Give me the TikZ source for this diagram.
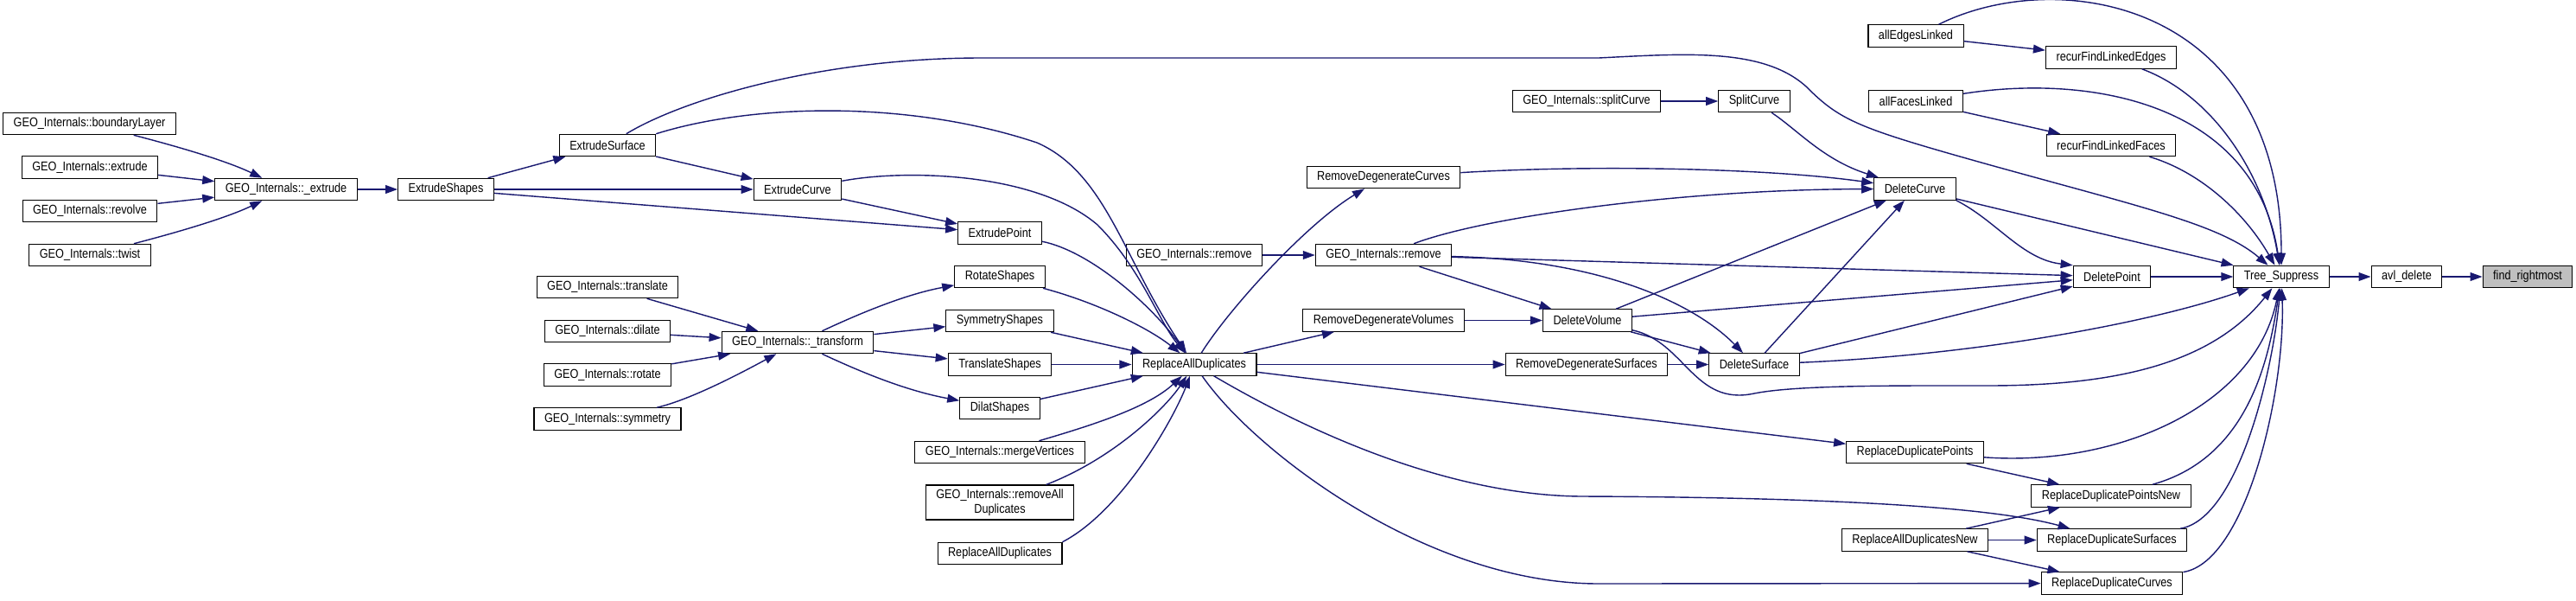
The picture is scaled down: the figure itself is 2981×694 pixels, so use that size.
\documentclass[tikz,border=0pt]{standalone}
\usepackage{fontspec}
\setmainfont{Liberation Sans}[FakeStretch=0.86]
\usetikzlibrary{arrows.meta}
\definecolor{edgeblue}{HTML}{191970}
\definecolor{hilite}{HTML}{BFBFBF}

\begin{document}
\begin{tikzpicture}[x=0.02cm,y=-0.02cm,>={Triangle[length=8pt,width=5.6pt]},
  every node/.style={font=\fontsize{8.4}{10}\selectfont},
  fn/.style={draw=black,line width=0.6pt,fill=white,inner xsep=0.24cm,inner ysep=0pt,minimum height=0.51cm},
  call/.style={->,draw=edgeblue,line width=0.8pt}]
  \useasboundingbox (0,0) rectangle (2981,694);
  \node[fn] (bl) at (103.5,143) {GEO\_Internals::boundaryLayer};
  \node[fn] (gextr) at (104,193.5) {GEO\_Internals::extrude};
  \node[fn] (grev) at (104,244) {GEO\_Internals::revolve};
  \node[fn] (gtwist) at (104,295) {GEO\_Internals::twist};
  \node[fn] (gext) at (331,219) {GEO\_Internals::\_extrude};
  \node[fn] (es) at (516,219) {ExtrudeShapes};
  \node[fn] (esurf) at (703,168) {ExtrudeSurface};
  \node[fn] (ec) at (923,219) {ExtrudeCurve};
  \node[fn] (ep) at (1157,269.5) {ExtrudePoint};
  \node[fn] (gtrl) at (703,332) {GEO\_Internals::translate};
  \node[fn] (gdil) at (703,383) {GEO\_Internals::dilate};
  \node[fn] (grot) at (703,433.5) {GEO\_Internals::rotate};
  \node[fn] (gsym) at (703,484.5) {GEO\_Internals::symmetry};
  \node[fn] (gtrf) at (923,396) {GEO\_Internals::\_transform};
  \node[fn] (rot) at (1157,320) {RotateShapes};
  \node[fn] (sym) at (1157,371) {SymmetryShapes};
  \node[fn] (trl) at (1157,421.5) {TranslateShapes};
  \node[fn] (dil) at (1157,472) {DilatShapes};
  \node[fn] (gmerge) at (1157,523) {GEO\_Internals::mergeVertices};
  \node[fn,align=center,minimum height=0.8cm] (gremall) at (1157,581) {GEO\_Internals::removeAll\\Duplicates};
  \node[fn] (rad2) at (1157,640) {ReplaceAllDuplicates};
  \node[fn] (rad) at (1382,421.5) {ReplaceAllDuplicates};
  \node[fn] (grem1) at (1382,295) {GEO\_Internals::remove};
  \node[fn] (grem2) at (1601,295) {GEO\_Internals::remove};
  \node[fn] (rdc) at (1601,205) {RemoveDegenerateCurves};
  \node[fn] (rdv) at (1601,370.5) {RemoveDegenerateVolumes};
  \node[fn] (rds) at (1836,421.5) {RemoveDegenerateSurfaces};
  \node[fn] (gsplit) at (1836,117) {GEO\_Internals::splitCurve};
  \node[fn] (split) at (2030,117) {SplitCurve};
  \node[fn] (dv) at (1837,370.5) {DeleteVolume};
  \node[fn] (ds) at (2030,421.5) {DeleteSurface};
  \node[fn] (dc) at (2216,218.5) {DeleteCurve};
  \node[fn] (dp) at (2444,320) {DeletePoint};
  \node[fn] (ael) at (2217,41.5) {allEdgesLinked};
  \node[fn] (rfle) at (2443,66.5) {recurFindLinkedEdges};
  \node[fn] (afl) at (2217,117) {allFacesLinked};
  \node[fn] (rflf) at (2443,168) {recurFindLinkedFaces};
  \node[fn] (rdp) at (2216,523) {ReplaceDuplicatePoints};
  \node[fn] (rdpn) at (2443,573.5) {ReplaceDuplicatePointsNew};
  \node[fn] (radn) at (2216,624.5) {ReplaceAllDuplicatesNew};
  \node[fn] (rdsf) at (2444,624.5) {ReplaceDuplicateSurfaces};
  \node[fn] (rdcv) at (2444,674.5) {ReplaceDuplicateCurves};
  \node[fn] (ts) at (2640,320) {Tree\_Suppress};
  \node[fn] (avl) at (2785,320) {avl\_delete};
  \node[fn,fill=hilite] (fr) at (2925,320) {find\_rightmost};
  \draw[call] (avl) -- (fr);
  \draw[call] (ts) -- (avl);
  \draw[call] (dp) -- (ts);
  \draw[call] (dc) -- (ts);
  \draw[call] (ael) .. controls (2380,-40) and (2640,0) .. (ts);
  \draw[call] (rfle) .. controls (2560,110) and (2620,200) .. (ts);
  \draw[call] (afl) .. controls (2420,85) and (2610,120) .. (ts);
  \draw[call] (rflf) .. controls (2550,200) and (2600,250) .. (ts);
  \draw[call] (esurf) .. controls (790,115) and (950,67) .. (1136,67) -- (1850,67) .. controls (1950,62) and (2040,55) .. (2090,100) .. controls (2130,140) and (2150,148) .. (2300,190) .. controls (2480,240) and (2570,260) .. (ts);
  \draw[call] (ds) .. controls (2300,410) and (2500,370) .. (ts);
  \draw[call] (dv) .. controls (1950,395) and (1960,470) .. (2030,455) .. controls (2080,445) and (2200,446) .. (2300,446) .. controls (2450,446) and (2560,420) .. (ts);
  \draw[call] (rdp) .. controls (2450,540) and (2610,470) .. (ts);
  \draw[call] (rdpn) .. controls (2600,530) and (2625,420) .. (ts);
  \draw[call] (rdsf) .. controls (2590,600) and (2630,430) .. (ts);
  \draw[call] (rdcv) .. controls (2600,650) and (2645,450) .. (ts);
  \draw[call] (ael) -- (rfle);
  \draw[call] (afl) -- (rflf);
  \draw[call] (dc.south east) .. controls (2310,255) and (2340,300) .. (dp.north west);
  \draw[call] (ds) -- (dp);
  \draw[call] (dv) -- (dp);
  \draw[call] (grem2) -- (dp);
  \draw[call] (ds) -- (dc);
  \draw[call] (dv) -- (dc);
  \draw[call] (grem2) .. controls (1720,250) and (1950,219) .. (dc);
  \draw[call] (rdc) .. controls (1850,190) and (2050,195) .. (dc);
  \draw[call] (split) .. controls (2080,150) and (2110,185) .. (dc);
  \draw[call] (gsplit) -- (split);
  \draw[call] (dv) -- (ds);
  \draw[call] (rds) -- (ds);
  \draw[call] (grem2) .. controls (1850,300) and (1960,350) .. (ds);
  \draw[call] (grem2) -- (dv);
  \draw[call] (rdv) -- (dv);
  \draw[call] (grem1) -- (grem2);
  \draw[call] (rad) .. controls (1420,360) and (1510,260) .. (rdc);
  \draw[call] (rad) -- (rdv);
  \draw[call] (rad) -- (rds);
  \draw[call] (rad) -- (rdp);
  \draw[call] (rad) .. controls (1550,520) and (1700,573) .. (1830,574) .. controls (2100,575) and (2300,585) .. (rdsf);
  \draw[call] (rad) .. controls (1450,520) and (1650,675) .. (1850,675) -- (rdcv);
  \draw[call] (rdp) -- (rdpn);
  \draw[call] (radn) -- (rdpn);
  \draw[call] (radn) -- (rdsf);
  \draw[call] (radn) -- (rdcv);
  \draw[call] (esurf.north east) .. controls (870,120) and (1050,115) .. (1200,165) .. controls (1280,200) and (1300,300) .. (rad);
  \draw[call] (ec) .. controls (1050,195) and (1200,200) .. (1270,260) .. controls (1320,310) and (1340,370) .. (rad);
  \draw[call] (ep) .. controls (1260,290) and (1330,350) .. (rad);
  \draw[call] (rot) .. controls (1270,350) and (1330,380) .. (rad);
  \draw[call] (sym) -- (rad);
  \draw[call] (trl) -- (rad);
  \draw[call] (dil) -- (rad);
  \draw[call] (gmerge) .. controls (1270,490) and (1330,470) .. (rad);
  \draw[call] (gremall) .. controls (1290,530) and (1350,470) .. (rad);
  \draw[call] (rad2.north east) .. controls (1300,590) and (1360,480) .. (rad);
  \draw[call] (esurf) -- (ec);
  \draw[call] (ec) -- (ep);
  \draw[call] (es) -- (esurf);
  \draw[call] (es) -- (ec);
  \draw[call] (es) -- (ep);
  \draw[call] (gext) -- (es);
  \draw[call] (bl) .. controls (200,168) and (260,185) .. (gext);
  \draw[call] (gextr) -- (gext);
  \draw[call] (grev) -- (gext);
  \draw[call] (gtwist) .. controls (200,270) and (260,253) .. (gext);
  \draw[call] (gtrf) .. controls (1000,360) and (1050,340) .. (rot);
  \draw[call] (gtrf) -- (sym);
  \draw[call] (gtrf) -- (trl);
  \draw[call] (gtrf) .. controls (1000,432) and (1050,452) .. (dil);
  \draw[call] (gtrl) -- (gtrf);
  \draw[call] (gdil) -- (gtrf);
  \draw[call] (grot) -- (gtrf);
  \draw[call] (gsym) .. controls (800,462) and (860,430) .. (gtrf);
\end{tikzpicture}
\end{document}
